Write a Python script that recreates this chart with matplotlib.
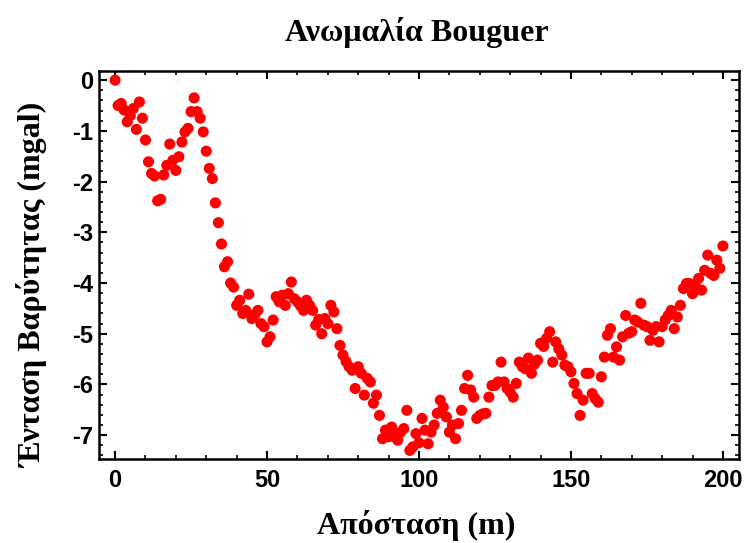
import matplotlib
matplotlib.use("Agg")
import matplotlib.pyplot as plt
from matplotlib.ticker import MultipleLocator

plt.rcParams['axes.unicode_minus'] = False

title = "Ανωμαλία Bouguer"
xlabel = "Απόσταση (m)"
ylabel = "Ένταση Βαρύτητας (mgal)"

distance = list(range(0, 201))
gravity = [
    0.00, -0.50, -0.46, -0.59, -0.82, -0.70, -0.56, -0.97, -0.43, -0.75,
    -1.18, -1.61, -1.84, -1.89, -2.38, -2.35, -1.87, -1.68, -1.26, -1.58,
    -1.78, -1.51, -1.22, -1.02, -0.95, -0.62, -0.35, -0.62, -0.75, -1.02,
    -1.40, -1.74, -1.94, -2.42, -2.81, -3.23, -3.68, -3.58, -4.00, -4.08,
    -4.44, -4.34, -4.60, -4.54, -4.22, -4.70, -4.62, -4.54, -4.80, -4.86,
    -5.16, -5.06, -4.73, -4.27, -4.37, -4.24, -4.44, -4.21, -3.98, -4.31,
    -4.37, -4.45, -4.54, -4.34, -4.44, -4.54, -4.83, -4.72, -5.00, -4.70,
    -4.80, -4.44, -4.57, -4.90, -5.23, -5.42, -5.55, -5.65, -5.72, -6.08,
    -5.65, -5.78, -6.21, -5.88, -5.95, -6.37, -6.21, -6.61, -7.07, -6.90,
    -7.03, -6.84, -7.03, -7.10, -6.94, -6.87, -6.51, -7.30, -7.23, -6.97,
    -7.15, -6.67, -6.90, -7.17, -6.94, -6.80, -6.57, -6.31, -6.45, -6.64,
    -6.94, -6.80, -7.07, -6.77, -6.51, -6.08, -5.82, -6.11, -6.25, -6.67,
    -6.61, -6.58, -6.57, -6.25, -6.02, -6.02, -5.95, -5.56, -5.95, -6.08,
    -6.15, -6.25, -5.98, -5.56, -5.65, -5.69, -5.48, -5.78, -5.60, -5.52,
    -5.19, -5.25, -5.09, -4.96, -5.56, -5.16, -5.30, -5.42, -5.62, -5.65,
    -5.75, -5.98, -6.18, -6.61, -6.31, -5.78, -5.78, -6.18, -6.28, -6.35,
    -5.85, -5.46, -5.03, -4.90, -5.46, -5.26, -5.52, -5.06, -4.64, -4.99,
    -4.96, -4.73, -4.77, -4.40, -4.83, -4.86, -5.13, -4.93, -4.86, -5.16,
    -4.86, -4.73, -4.64, -4.54, -4.90, -4.67, -4.44, -4.11, -4.01, -4.01,
    -4.21, -4.08, -3.91, -4.14, -3.75, -3.45, -3.81, -3.85, -3.55, -3.71,
    -3.27,
]

xticks = [0, 50, 100, 150, 200]
yticks = [0, -1, -2, -3, -4, -5, -6, -7]

fig = plt.figure(figsize=(7.47, 5.43), dpi=100)
ax = fig.add_axes([0.1325, 0.1547, 0.8568, 0.7145])

ax.scatter(distance, gravity, s=64, color='#ff0000', edgecolors='none', zorder=3)

ax.set_xlim(-5.3, 205.3)
ax.set_ylim(-7.47, 0.18)

ax.set_xticks(xticks)
ax.set_yticks(yticks)
ax.xaxis.set_minor_locator(MultipleLocator(10))
ax.yaxis.set_minor_locator(MultipleLocator(0.2))

for sp in ax.spines.values():
    sp.set_linewidth(1.8)
    sp.set_color('black')

ax.tick_params(which='both', direction='in', top=True, right=True, color='black')
ax.tick_params(which='major', length=6, width=1.5)
ax.tick_params(which='minor', length=3, width=1.2)
ax.tick_params(axis='x', which='major', pad=7)
ax.tick_params(axis='y', which='major', pad=4)

ax.set_xticklabels([str(v) for v in xticks], fontsize=17, fontweight='bold',
                   family='Liberation Sans')
ax.set_yticklabels([str(v) for v in yticks], fontsize=17, fontweight='bold',
                   family='Liberation Sans')

fig.text(0.558, 0.941, title, ha='center', va='center', fontsize=23,
         fontweight='bold', family='Liberation Serif')
fig.text(0.557, 0.033, xlabel, ha='center', va='center', fontsize=23,
         fontweight='bold', family='Liberation Serif')
fig.text(0.044, 0.475, ylabel, ha='center', va='center', rotation=90,
         fontsize=23, fontweight='bold', family='Liberation Serif')

fig.savefig("out.png", dpi=100)
